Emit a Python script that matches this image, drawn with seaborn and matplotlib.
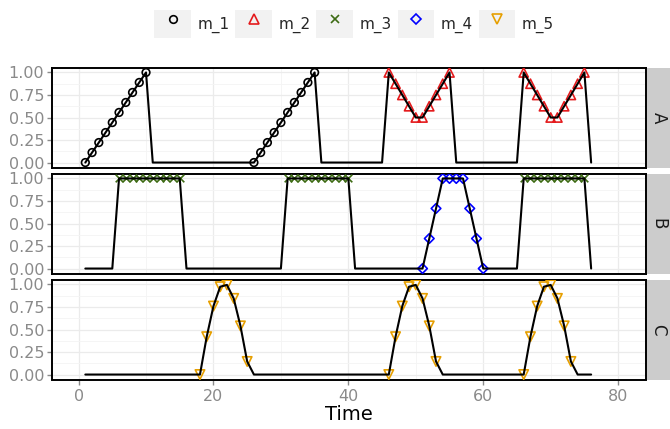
import numpy as np
import pandas as pd
import matplotlib
matplotlib.use("Agg")
import matplotlib.pyplot as plt
import seaborn as sns
from matplotlib.lines import Line2D
from matplotlib.patches import Rectangle
from matplotlib.legend_handler import HandlerLine2D

# ---------------- data ----------------
time = list(range(1, 77))

value_A = [0.000, 0.111, 0.222, 0.333, 0.444, 0.556, 0.667, 0.778, 0.889, 1.000,
           0, 0, 0, 0, 0, 0, 0, 0, 0, 0, 0, 0, 0, 0, 0,
           0.000, 0.111, 0.222, 0.333, 0.444, 0.556, 0.667, 0.778, 0.889, 1.000,
           0, 0, 0, 0, 0, 0, 0, 0, 0, 0,
           1.000, 0.875, 0.750, 0.625, 0.500, 0.500, 0.625, 0.750, 0.875, 1.000,
           0, 0, 0, 0, 0, 0, 0, 0, 0, 0,
           1.000, 0.875, 0.750, 0.625, 0.500, 0.500, 0.625, 0.750, 0.875, 1.000,
           0]
marker_A = (["m_1"] * 10 + [None] * 15 + ["m_1"] * 10 + [None] * 10 +
            ["m_2"] * 10 + [None] * 10 + ["m_2"] * 10 + [None])

value_B = [0, 0, 0, 0, 0,
           1, 1, 1, 1, 1, 1, 1, 1, 1, 1,
           0, 0, 0, 0, 0, 0, 0, 0, 0, 0, 0, 0, 0, 0, 0,
           1, 1, 1, 1, 1, 1, 1, 1, 1, 1,
           0, 0, 0, 0, 0, 0, 0, 0, 0, 0,
           0.000, 0.333, 0.667, 1.000, 1.000, 1.000, 1.000, 0.667, 0.333, 0.000,
           0, 0, 0, 0, 0,
           1, 1, 1, 1, 1, 1, 1, 1, 1, 1,
           0]
marker_B = ([None] * 5 + ["m_3"] * 10 + [None] * 15 + ["m_3"] * 10 + [None] * 10 +
            ["m_4"] * 10 + [None] * 5 + ["m_3"] * 10 + [None])

value_C = [0, 0, 0, 0, 0, 0, 0, 0, 0, 0, 0, 0, 0, 0, 0, 0, 0,
           0.000, 0.420, 0.760, 0.975, 0.995, 0.845, 0.540, 0.145,
           0, 0, 0, 0, 0, 0, 0, 0, 0, 0, 0, 0, 0, 0, 0, 0, 0, 0, 0, 0,
           0.000, 0.420, 0.760, 0.975, 0.995, 0.845, 0.540, 0.145,
           0, 0, 0, 0, 0, 0, 0, 0, 0, 0, 0, 0,
           0.000, 0.420, 0.760, 0.975, 0.995, 0.845, 0.540, 0.145,
           0, 0, 0]
marker_C = ([None] * 17 + ["m_5"] * 8 + [None] * 20 + ["m_5"] * 8 + [None] * 12 +
            ["m_5"] * 8 + [None] * 3)

panels = ["A", "B", "C"]
series = ["m_1", "m_2", "m_3", "m_4", "m_5"]
series_colors = ["#000000", "#E41A1C", "#3D6B14", "#0000FF", "#E69F00"]
series_markers = ["o", "^", "x", "D", "v"]
series_sizes = [30, 44, 30, 24, 46]

x_ticks = [0, 20, 40, 60, 80]
y_ticks = [0.0, 0.25, 0.5, 0.75, 1.0]
y_ticklabels = ["0.00", "0.25", "0.50", "0.75", "1.00"]

df = pd.DataFrame({
    "Time": time * 3,
    "Value": value_A + value_B + value_C,
    "Marker": marker_A + marker_B + marker_C,
    "Panel": ["A"] * 76 + ["B"] * 76 + ["C"] * 76,
})

# ---------------- style ----------------
sns.set_theme(style="white")
plt.rcParams["font.family"] = ["DejaVu Sans"]
TICK_GRAY = "#8A8A8A"

W, H = 670, 429
fig = plt.figure(figsize=(W / 100, H / 100), dpi=100)

L, R = 52, 645.5
panel_px = [(67.5, 167.5), (173.5, 273.5), (279.5, 379.5)]

for i, (panel, (top, bot)) in enumerate(zip(panels, panel_px)):
    ax = fig.add_axes([L / W, 1 - bot / H, (R - L) / W, (bot - top) / H])
    sub = df[df["Panel"] == panel]

    for name, col, mk, sz in zip(series, series_colors, series_markers, series_sizes):
        pts = sub[sub["Marker"] == name]
        if pts.empty:
            continue
        if mk == "x":
            sns.scatterplot(data=pts, x="Time", y="Value", marker=mk, color=col,
                            s=sz, linewidth=1.2, legend=False, ax=ax, zorder=3)
        else:
            sns.scatterplot(data=pts, x="Time", y="Value", marker=mk, color=col,
                            facecolors="none", edgecolor=col, s=sz, linewidth=1.2,
                            legend=False, ax=ax, zorder=3)

    sns.lineplot(data=sub, x="Time", y="Value", color="black", linewidth=1.5,
                 ax=ax, legend=False, zorder=4)

    ax.set_xlim(-3.94, 84.06)
    ax.set_ylim(-0.055, 1.055)
    ax.set_xticks(x_ticks)
    ax.set_xticks([10, 30, 50, 70], minor=True)
    ax.set_yticks(y_ticks)
    ax.set_yticklabels(y_ticklabels)
    ax.set_yticks([0.125, 0.375, 0.625, 0.875], minor=True)
    ax.grid(which="major", color="#EBEBEB", linewidth=0.9)
    ax.grid(which="minor", color="#F4F4F4", linewidth=0.6)
    ax.set_axisbelow(True)
    ax.set_facecolor("white")
    for sp in ax.spines.values():
        sp.set_color("black")
        sp.set_linewidth(1.4)
    ax.tick_params(axis="y", which="major", left=True, length=3.5, width=1.0,
                   color=TICK_GRAY, labelcolor=TICK_GRAY, labelsize=11.5, pad=2)
    ax.tick_params(which="minor", length=0)
    ax.set_ylabel("")
    if i < 2:
        ax.tick_params(axis="x", which="major", bottom=False, labelbottom=False)
        ax.set_xlabel("")
    else:
        ax.tick_params(axis="x", which="major", bottom=True, length=3.5, width=1.0,
                       color=TICK_GRAY, labelcolor=TICK_GRAY, labelsize=11.5, pad=3)
        ax.set_xlabel("Time", fontsize=14, color="black", labelpad=1)

    # facet strip
    sx0 = 647
    fig.patches.append(Rectangle((sx0 / W, 1 - bot / H), (W - sx0) / W, (bot - top) / H,
                                 transform=fig.transFigure, facecolor="#CCCCCC",
                                 edgecolor="none", zorder=0))
    fig.text((sx0 + W) / 2 / W, 1 - (top + bot) / 2 / H, panel, rotation=270,
             ha="center", va="center", fontsize=12, color="#1A1A1A")


# ---------------- legend ----------------
class KeyWithBackground(HandlerLine2D):
    def create_artists(self, legend, orig_handle, xdescent, ydescent, width, height,
                       fontsize, trans):
        bg = Rectangle((-xdescent, -ydescent), width, height, facecolor="#F2F2F2",
                       edgecolor="none", transform=trans)
        arts = super().create_artists(legend, orig_handle, xdescent, ydescent,
                                      width, height, fontsize, trans)
        return [bg] + list(arts)


handles = []
for name, col, mk, sz in zip(series, series_colors, series_markers, series_sizes):
    if mk == "x":
        h = Line2D([], [], linestyle="none", marker=mk, color=col, markersize=np.sqrt(sz),
                   markeredgewidth=1.2)
    else:
        h = Line2D([], [], linestyle="none", marker=mk, color=col, markerfacecolor="none",
                   markeredgecolor=col, markersize=np.sqrt(sz), markeredgewidth=1.2)
    handles.append(h)

handler = KeyWithBackground(numpoints=1)
fig.legend(handles, series, loc="center", bbox_to_anchor=(354 / W, 1 - 24 / H),
           ncol=5, frameon=False, fontsize=11, handlelength=2.4, handleheight=2.4,
           handletextpad=0.4, columnspacing=0.4, borderpad=0, borderaxespad=0,
           handler_map={h: handler for h in handles})

fig.savefig("out.png", dpi=100, facecolor="white")
